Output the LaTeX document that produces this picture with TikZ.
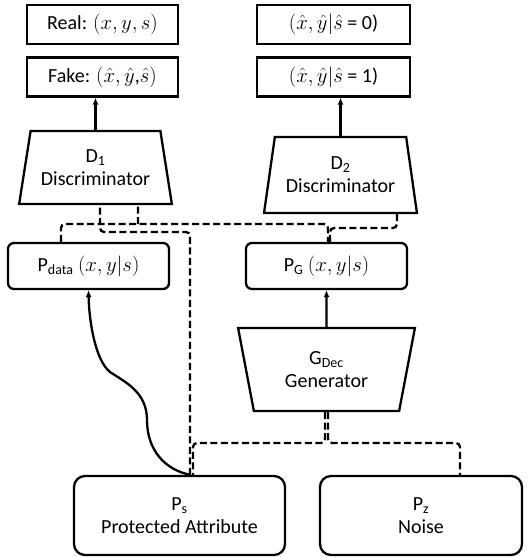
\documentclass[tikz,border=0pt]{standalone}
\usepackage{fontspec}
\setmainfont{Carlito}
\usetikzlibrary{shapes.geometric,arrows.meta,calc}
\begin{document}
\begin{tikzpicture}[x=1pt,y=-1pt,
  every node/.style={font=\fontsize{20}{23}\selectfont, align=center, inner sep=0pt},
  outbox/.style={draw, line width=2.3pt, minimum width=#1, minimum height=39pt},
  roundbox/.style={draw, line width=2.3pt, rounded corners=6pt, minimum width=#1, minimum height=46pt},
  bigbox/.style={draw, line width=2.3pt, rounded corners=11pt, minimum width=#1, minimum height=79pt},
  trap/.style={draw, line width=2.3pt, trapezium, trapezium stretches=true},
  dconn/.style={line width=2.3pt, dash pattern=on 7pt off 3.5pt, rounded corners=4pt},
  sconn/.style={line width=2.3pt, -{Latex[length=7pt,width=6pt]}}
]
\useasboundingbox (0,0) rectangle (527,557);

% output boxes
\node[outbox=151pt] (real) at (102.5,24.5) {Real: $(x, y, s)$};
\node[outbox=151pt] (fake) at (102.5,77) {Fake: $(\hat{x}, \hat{y}$,$\hat{s})$};
\node[outbox=153pt] (r0) at (333.5,24.5) {$(\hat{x}, \hat{y}|\hat{s}$ = 0)};
\node[outbox=153pt] (r1) at (333.5,77) {$(\hat{x}, \hat{y}|\hat{s}$ = 1)};

% discriminators and generator
\node[trap, trapezium left angle=75, trapezium right angle=75,
      minimum width=153pt, minimum height=73pt] (D1) at (95.5,167.5)
      {D\textsubscript{1}\\Discriminator};
\node[trap, trapezium left angle=76, trapezium right angle=76,
      minimum width=153pt, minimum height=76pt] (D2) at (340.5,175)
      {D\textsubscript{2}\\Discriminator};
\node[trap, trapezium left angle=76, trapezium right angle=76, shape border rotate=180,
      minimum width=177pt, minimum height=83pt] (G) at (326.5,369.5)
      {G\textsubscript{Dec}\\Generator};

% distributions
\node[roundbox=161pt] (Pdata) at (88.5,266) {P\textsubscript{data} $(x, y|s)$};
\node[roundbox=161pt] (PG) at (326.5,266) {P\textsubscript{G} $(x, y|s)$};
\node[bigbox=211pt] (Ps) at (179.5,515.5) {P\textsubscript{s}\\Protected Attribute};
\node[bigbox=202pt] (Pz) at (421,515.5) {P\textsubscript{z}\\Noise};

% solid arrows
\draw[sconn] (D1.north) -- (D1.north |- fake.south);
\draw[sconn] (D2.north) -- (D2.north |- r1.south);
\draw[sconn] (G.north) -- (PG.south);
\draw[sconn] ([xshift=11pt]Ps.north) .. controls (165,470) and (147,450) .. (147,420)
  .. controls (147,392) and (125,382) .. (110,372)
  .. controls (95,360) and (89,320) .. (Pdata.south);

% dashed connectors
\draw[dconn] ([xshift=10.5pt]Ps.north) -- (190,232) -- (100,232) -- ([xshift=4.5pt]D1.south);
\draw[dconn] ([xshift=-27.5pt]Pdata.north) -- (61,224) -- (328,224) -- ([xshift=1.5pt]PG.north);
\draw[dconn] (138,224) -- ([xshift=42.5pt]D1.south);
\draw[dconn] ([xshift=56.5pt]D2.south) -- (397,228) -- (330,228) -- ([xshift=3.5pt]PG.north);
\draw[dconn] ([xshift=-1.5pt]G.south) -- (325,443) -- (193,443) -- ([xshift=13.5pt]Ps.north);
\draw[dconn] ([xshift=1.5pt]G.south) -- (328,443) -- (460,443) -- ([xshift=39pt]Pz.north);
\end{tikzpicture}
\end{document}
